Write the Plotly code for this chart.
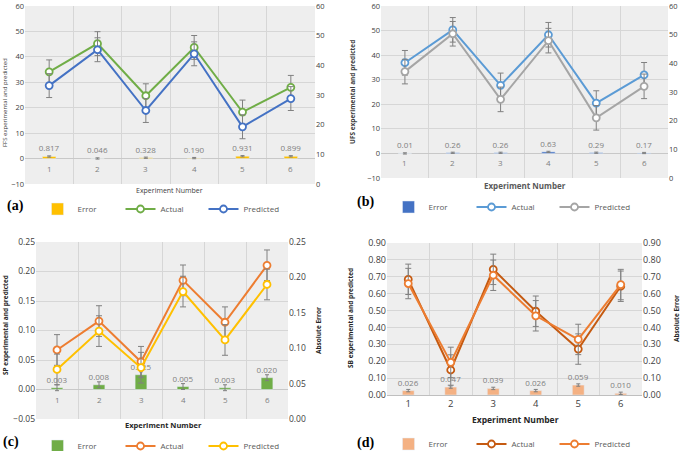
import plotly.graph_objects as go

W, H = 685, 451

experiments = [1, 2, 3, 4, 5, 6]
experiment_labels = ["1", "2", "3", "4", "5", "6"]
boundaries = [0.5, 1.5, 2.5, 3.5, 4.5, 5.5, 6.5]

ffs_actual = [34.1, 45.2, 24.7, 43.7, 18.3, 28.0]
ffs_predicted = [28.7, 42.8, 18.9, 41.2, 12.5, 23.6]
ffs_error = [0.817, 0.046, 0.328, 0.190, 0.931, 0.899]
ffs_sd = 4.7

ufs_actual = [36.9, 50.3, 27.7, 48.3, 20.5, 32.0]
ufs_predicted = [33.3, 48.7, 22.0, 45.9, 14.5, 27.3]
ufs_error = [0.01, 0.26, 0.26, 0.63, 0.29, 0.17]
ufs_sd = 5.0

sp_actual = [0.067, 0.116, 0.047, 0.185, 0.114, 0.2105]
sp_predicted = [0.034, 0.099, 0.037, 0.166, 0.084, 0.178]
sp_error = [0.003, 0.008, 0.025, 0.005, 0.003, 0.020]
sp_sd = 0.026

sb_actual = [0.685, 0.148, 0.744, 0.496, 0.272, 0.644]
sb_predicted = [0.660, 0.193, 0.709, 0.469, 0.329, 0.654]
sb_error = [0.026, 0.047, 0.039, 0.026, 0.059, 0.010]
sb_sd = 0.09


def dx(a, b):
    return [a / W, b / W]


def dy(top, bottom):
    return [1 - bottom / H, 1 - top / H]


BG = "#EEEEEE"
GRID = "#D6D6D6"
TXT = "#595959"

fig = go.Figure()

panels = [
    dict(name="a", x="x", y="y", y2="y2", xd=dx(25, 315), yd=dy(6, 184),
         act=ffs_actual, pred=ffs_predicted, err=ffs_error, sd=ffs_sd, esd=0.25,
         fmt="{:.3f}", c_err="#FFC000", c_act="#70AD47", c_pred="#4472C4",
         lrange=[-10, 60], ldtick=10, rrange=[0, 60], rdtick=10, tfmt="d",
         tick_size=7.5, labels_at_zero=True, legend="legend"),
    dict(name="b", x="x2", y="y3", y2="y4", xd=dx(381, 668), yd=dy(6, 178),
         act=ufs_actual, pred=ufs_predicted, err=ufs_error, sd=ufs_sd, esd=0.25,
         fmt="{:.2f}", c_err="#4472C4", c_act="#5B9BD5", c_pred="#A5A5A5",
         lrange=[-10, 60], ldtick=10, rrange=[0, 60], rdtick=10, tfmt="d",
         tick_size=7.5, labels_at_zero=True, legend="legend2"),
    dict(name="c", x="x3", y="y5", y2="y6", xd=dx(36, 288), yd=dy(242, 419),
         act=sp_actual, pred=sp_predicted, err=sp_error, sd=sp_sd, esd=0.005,
         fmt="{:.3f}", c_err="#70AD47", c_act="#ED7D31", c_pred="#FFC000",
         lrange=[-0.05, 0.25], ldtick=0.05, rrange=[0, 0.25], rdtick=0.05, tfmt=".2f",
         tick_size=8.5, labels_at_zero=True, legend="legend3"),
    dict(name="d", x="x4", y="y7", y2="y8", xd=dx(387, 642), yd=dy(243, 395),
         act=sb_actual, pred=sb_predicted, err=sb_error, sd=sb_sd, esd=0.007,
         fmt="{:.3f}", c_err="#F4B183", c_act="#C55A11", c_pred="#ED7D31",
         lrange=[0, 0.9], ldtick=0.1, rrange=[0, 0.9], rdtick=0.1, tfmt=".2f",
         tick_size=9, labels_at_zero=False, legend="legend4"),
]

annotations = []

for p in panels:
    fig.add_trace(go.Bar(
        x=experiments, y=p["err"], name="Error", marker_color=p["c_err"],
        width=0.28, xaxis=p["x"], yaxis=p["y"], legend=p["legend"],
        text=[p["fmt"].format(v) for v in p["err"]], textposition="outside",
        constraintext="none",
        textfont=dict(size=8, color="#7F7F7F"), cliponaxis=False,
        error_y=dict(type="constant", value=p["esd"], color="#7F7F7F", thickness=1, width=2),
    ))
    for key, col, nm in [("act", p["c_act"], "Actual"), ("pred", p["c_pred"], "Predicted")]:
        fig.add_trace(go.Scatter(
            x=experiments, y=p[key], name=nm, mode="lines+markers",
            line=dict(color=col, width=2),
            marker=dict(symbol="circle", size=7, color="white", line=dict(color=col, width=1.8)),
            error_y=dict(type="constant", value=p["sd"], color="#808080", thickness=1, width=3),
            xaxis=p["x"], yaxis=p["y"], legend=p["legend"], cliponaxis=False,
        ))
    # invisible trace so the secondary (absolute error) axis is drawn
    fig.add_trace(go.Scatter(
        x=experiments, y=p["err"], mode="markers", marker=dict(opacity=0),
        showlegend=False, hoverinfo="skip", xaxis=p["x"], yaxis=p["y2"],
    ))

    xname = "xaxis" + p["x"][1:]
    yname = "yaxis" + p["y"][1:]
    y2name = "yaxis" + p["y2"][1:]
    fig.layout[xname] = dict(
        domain=p["xd"], anchor=p["y"], range=[0.5, 6.5], automargin=False,
        tickvals=experiments, ticktext=experiment_labels,
        showticklabels=not p["labels_at_zero"], ticks="",
        tickfont=dict(size=p["tick_size"] + 0.5, color="#404040", family="Open Sans"),
        showgrid=False, zeroline=False,
        showline=not p["labels_at_zero"], linecolor="#BFBFBF",
        minor=dict(tickvals=boundaries, showgrid=True, gridcolor=GRID, gridwidth=1, ticks=""),
        fixedrange=True,
    )
    fig.layout[yname] = dict(
        domain=p["yd"], anchor=p["x"], range=p["lrange"], dtick=p["ldtick"], automargin=False,
        tickformat=p["tfmt"], tickfont=dict(size=p["tick_size"], color="#404040"),
        showgrid=True, gridcolor=GRID, zeroline=True, zerolinecolor="#C8C8C8",
        zerolinewidth=1, ticks="", showline=False,
    )
    fig.layout[y2name] = dict(
        overlaying=p["y"], anchor=p["x"], side="right", automargin=False,
        range=p["rrange"], dtick=p["rdtick"], showticklabels=True,
        tickformat=p["tfmt"], tickfont=dict(size=p["tick_size"], color="#404040"),
        showgrid=False, zeroline=False, ticks="", showline=False,
    )
    if p["labels_at_zero"]:
        for xv, lab in zip(experiments, experiment_labels):
            annotations.append(dict(
                x=xv, y=0, xref=p["x"], yref=p["y"], text=lab, showarrow=False,
                yanchor="top", yshift=-2, font=dict(size=8, color="#7F7F7F"),
            ))

fig.update_layout(plot_bgcolor=BG)


def add_text(x, y, text, size, angle=0, color=TXT, family="Open Sans"):
    annotations.append(dict(
        x=x / W, y=1 - y / H, xref="paper", yref="paper", text=text, showarrow=False,
        textangle=angle, font=dict(size=size, color=color, family=family),
        xanchor="center", yanchor="middle",
    ))


add_text(5, 103, "FFS experimental and predicted", 6, -90, "#404040")
add_text(169, 190, "Experiment Number", 7, 0, "#404040")
add_text(352, 92, "<b>UFS experimental and predicted</b>", 6.5, -90, "#404040")
add_text(525, 186, "<b>Experiment Number</b>", 8, 0, TXT)
add_text(5, 325, "<b>SP experimental and predicted</b>", 6.5, -90, "#262626")
add_text(318, 331, "<b>Absolute Error</b>", 6.5, -90, "#262626")
add_text(163, 425, "<b>Experiment Number</b>", 7.5, 0, "#262626")
add_text(350, 318, "<b>SB experimental and predicted</b>", 6.5, -90, "#262626")
add_text(676, 319, "<b>Absolute Error</b>", 6.5, -90, "#262626")
add_text(515, 419, "<b>Experiment Number</b>", 8.5, 0, "#262626")

for x, y, t in [(15, 206, "(a)"), (366, 202, "(b)"), (11, 442, "(c)"), (365, 443, "(d)")]:
    add_text(x, y, "<b>" + t + "</b>", 14, 0, "#000000", "Liberation Serif")

legend_common = dict(orientation="h", xanchor="center", yanchor="middle",
                     font=dict(size=8, color=TXT, family="Open Sans"),
                     bgcolor="rgba(0,0,0,0)", itemwidth=30, tracegroupgap=0,
                     entrywidth=38, entrywidthmode="pixels")

fig.update_layout(
    width=W, height=H, margin=dict(l=0, r=0, t=0, b=0, autoexpand=False),
    paper_bgcolor="white",
    font=dict(family="Open Sans", color=TXT),
    showlegend=True, barmode="group", hovermode=False,
    legend=dict(x=162 / W, y=1 - 209 / H, **legend_common),
    legend2=dict(x=513 / W, y=1 - 207 / H, **legend_common),
    legend3=dict(x=162 / W, y=1 - 446 / H, **legend_common),
    legend4=dict(x=513 / W, y=1 - 444 / H, **legend_common),
    annotations=annotations,
)

fig.write_html(
    "out.html",
    config={"displayModeBar": False},
    post_script="document.body.style.margin='0';document.body.style.overflow='hidden';",
)
